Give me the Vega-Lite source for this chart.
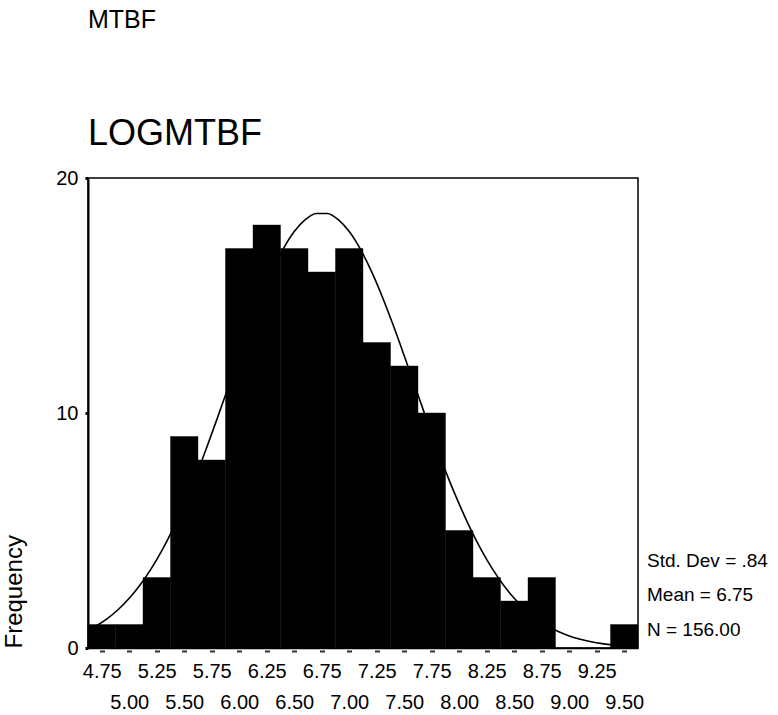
{
  "$schema": "https://vega.github.io/schema/vega-lite/v6.json",
  "width": 550,
  "height": 470,
  "autosize": {"type": "none"},
  "padding": {"left": 88, "top": 178, "right": 140, "bottom": 67},
  "background": "white",
  "title": {
    "text": "MTBF",
    "subtitle": "LOGMTBF",
    "anchor": "start",
    "frame": "group",
    "font": "Liberation Sans",
    "fontSize": 25,
    "fontWeight": "normal",
    "color": "black",
    "subtitleFont": "Liberation Sans",
    "subtitleFontSize": 36,
    "subtitleColor": "black",
    "subtitlePadding": 84,
    "offset": 16
  },
  "config": {
    "view": {"stroke": "black", "strokeWidth": 1.5},
    "font": "Liberation Sans",
    "axis": {
      "labelFont": "Liberation Sans",
      "labelFontSize": 20,
      "labelColor": "black",
      "grid": false
    }
  },
  "datasets": {
    "bins": [
      {"from": 4.625, "to": 4.875, "count": 1},
      {"from": 4.875, "to": 5.125, "count": 1},
      {"from": 5.125, "to": 5.375, "count": 3},
      {"from": 5.375, "to": 5.625, "count": 9},
      {"from": 5.625, "to": 5.875, "count": 8},
      {"from": 5.875, "to": 6.125, "count": 17},
      {"from": 6.125, "to": 6.375, "count": 18},
      {"from": 6.375, "to": 6.625, "count": 17},
      {"from": 6.625, "to": 6.875, "count": 16},
      {"from": 6.875, "to": 7.125, "count": 17},
      {"from": 7.125, "to": 7.375, "count": 13},
      {"from": 7.375, "to": 7.625, "count": 12},
      {"from": 7.625, "to": 7.875, "count": 10},
      {"from": 7.875, "to": 8.125, "count": 5},
      {"from": 8.125, "to": 8.375, "count": 3},
      {"from": 8.375, "to": 8.625, "count": 2},
      {"from": 8.625, "to": 8.875, "count": 3},
      {"from": 8.875, "to": 9.125, "count": 0},
      {"from": 9.125, "to": 9.375, "count": 0},
      {"from": 9.375, "to": 9.625, "count": 1}
    ],
    "normal": [
      {"x": 4.7, "freq": 0.943},
      {"x": 4.8, "freq": 1.252},
      {"x": 4.9, "freq": 1.638},
      {"x": 5.0, "freq": 2.115},
      {"x": 5.1, "freq": 2.691},
      {"x": 5.2, "freq": 3.376},
      {"x": 5.3, "freq": 4.175},
      {"x": 5.4, "freq": 5.091},
      {"x": 5.5, "freq": 6.121},
      {"x": 5.6, "freq": 7.238},
      {"x": 5.7, "freq": 8.480},
      {"x": 5.8, "freq": 9.771},
      {"x": 5.9, "freq": 11.101},
      {"x": 6.0, "freq": 12.433},
      {"x": 6.1, "freq": 13.730},
      {"x": 6.2, "freq": 14.949},
      {"x": 6.3, "freq": 16.046},
      {"x": 6.4, "freq": 16.982},
      {"x": 6.5, "freq": 17.720},
      {"x": 6.6, "freq": 18.229},
      {"x": 6.7, "freq": 18.490},
      {"x": 6.8, "freq": 18.490},
      {"x": 6.9, "freq": 18.229},
      {"x": 7.0, "freq": 17.720},
      {"x": 7.1, "freq": 16.982},
      {"x": 7.2, "freq": 16.046},
      {"x": 7.3, "freq": 14.949},
      {"x": 7.4, "freq": 13.730},
      {"x": 7.5, "freq": 12.433},
      {"x": 7.6, "freq": 11.101},
      {"x": 7.7, "freq": 9.771},
      {"x": 7.8, "freq": 8.480},
      {"x": 7.9, "freq": 7.238},
      {"x": 8.0, "freq": 6.121},
      {"x": 8.1, "freq": 5.091},
      {"x": 8.2, "freq": 4.175},
      {"x": 8.3, "freq": 3.376},
      {"x": 8.4, "freq": 2.691},
      {"x": 8.5, "freq": 2.115},
      {"x": 8.6, "freq": 1.638},
      {"x": 8.7, "freq": 1.252},
      {"x": 8.8, "freq": 0.943},
      {"x": 8.9, "freq": 0.700},
      {"x": 9.0, "freq": 0.513},
      {"x": 9.1, "freq": 0.370},
      {"x": 9.2, "freq": 0.263},
      {"x": 9.3, "freq": 0.185},
      {"x": 9.4, "freq": 0.128},
      {"x": 9.5, "freq": 0.087}
    ]
  },
  "resolve": {"axis": {"x": "independent"}},
  "layer": [
    {
      "data": {"name": "bins"},
      "mark": {"type": "bar", "color": "black", "stroke": "black", "strokeWidth": 0.4},
      "encoding": {
        "x": {
          "field": "from",
          "type": "quantitative",
          "scale": {"domain": [4.625, 9.625], "nice": false, "zero": false},
          "axis": {
            "orient": "bottom",
            "values": [4.75, 5.25, 5.75, 6.25, 6.75, 7.25, 7.75, 8.25, 8.75, 9.25],
            "format": ".2f",
            "labelPadding": 9,
            "labelBaseline": "top",
            "labelOverlap": false,
            "labelFlush": false,
            "tickSize": 4,
            "tickWidth": 5,
            "tickDash": [0, 2, 2],
            "tickColor": "#333333",
            "domainColor": "black",
            "domainWidth": 1.5,
            "title": null
          }
        },
        "x2": {"field": "to"},
        "y": {
          "field": "count",
          "type": "quantitative",
          "scale": {"domain": [0, 20], "nice": false},
          "axis": {
            "values": [0, 10, 20],
            "title": "Frequency",
            "titleFont": "Liberation Sans",
            "titleFontSize": 24,
            "titleFontWeight": "normal",
            "titleColor": "black",
            "titleAnchor": "start",
            "titlePadding": 29,
            "labelPadding": 7,
            "tickSize": 3,
            "tickWidth": 3,
            "tickColor": "black",
            "domainColor": "black",
            "domainWidth": 2
          }
        },
        "y2": {"datum": 0}
      }
    },
    {
      "data": {"name": "normal"},
      "mark": {"type": "line", "color": "black", "strokeWidth": 1.6, "interpolate": "monotone"},
      "encoding": {
        "x": {
          "field": "x",
          "type": "quantitative",
          "axis": {
            "orient": "bottom",
            "values": [5.0, 5.5, 6.0, 6.5, 7.0, 7.5, 8.0, 8.5, 9.0, 9.5],
            "format": ".2f",
            "labelPadding": 40,
            "labelBaseline": "top",
            "labelOverlap": false,
            "labelFlush": false,
            "tickSize": 4,
            "tickWidth": 5,
            "tickDash": [0, 2, 2],
            "tickColor": "#333333",
            "domain": false,
            "title": null
          }
        },
        "y": {"field": "freq", "type": "quantitative"}
      }
    },
    {
      "data": {"values": [{"n": 156, "mean": 6.75, "sd": 0.84}]},
      "mark": {
        "type": "text",
        "align": "left",
        "baseline": "alphabetic",
        "dx": 9,
        "font": "Liberation Sans",
        "fontSize": 19,
        "lineHeight": 34.7,
        "color": "black",
        "clip": false
      },
      "encoding": {
        "x": {"datum": 9.625, "type": "quantitative", "axis": null},
        "y": {"datum": 3.46, "type": "quantitative"},
        "text": {"value": ["Std. Dev = .84", "Mean = 6.75", "N = 156.00"]}
      }
    }
  ]
}
